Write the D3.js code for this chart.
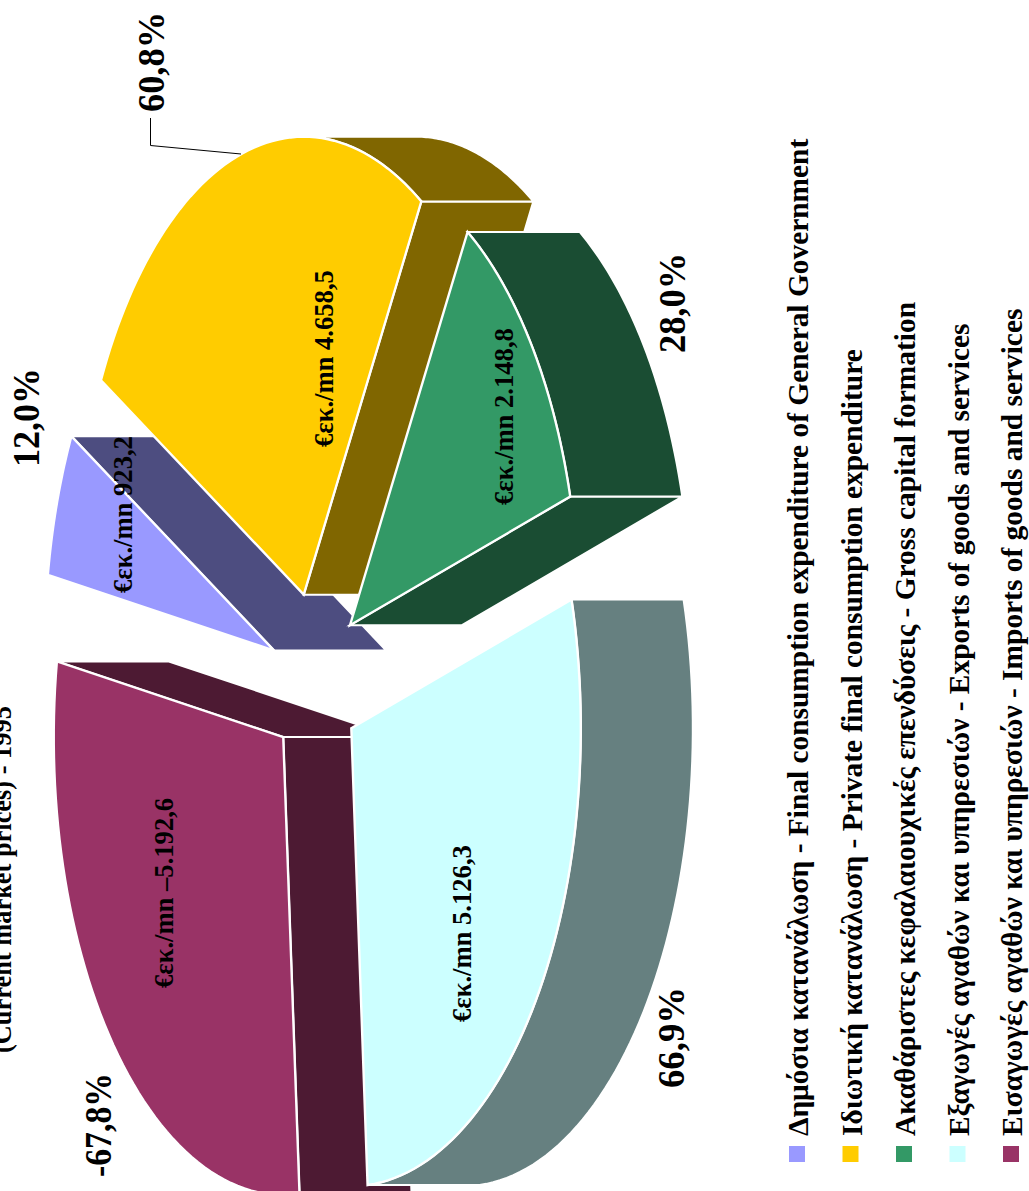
<!DOCTYPE html>
<html><head><meta charset="utf-8">
<script src="https://cdnjs.cloudflare.com/ajax/libs/d3/7.8.5/d3.min.js"></script>
<style>html,body{margin:0;padding:0;background:#fff;overflow:hidden}svg{display:block}
text{font-family:"Liberation Serif",serif;font-weight:bold;fill:#000}</style>
</head><body><svg id="c" width="1029" height="1191"></svg>
<script>
const categories = [
 "Δημόσια κατανάλωση - Final consumption expenditure of General Government",
 "Ιδιωτική κατανάλωση - Private final consumption expenditure",
 "Ακαθάριστες κεφαλαιουχικές επενδύσεις - Gross capital formation",
 "Εξαγωγές αγαθών και υπηρεσιών - Exports of goods and services",
 "Εισαγωγές αγαθών και υπηρεσιών - Imports of goods and services"];
const values = [923.2, 4658.5, 2148.8, 5126.3, -5192.6];
const valueLabels = ["€εκ./mn 923,2","€εκ./mn 4.658,5","€εκ./mn 2.148,8","€εκ./mn 5.126,3","€εκ./mn –5.192,6"];
const percentLabels = ["12,0%","60,8%","28,0%","66,9%","-67,8%"];
const topColors = ["#9999FF","#FFCC00","#339966","#CCFFFF","#993366"];
const sideColors = ["#4D4D80","#806600","#1A4D33","#668080","#4D1A33"];
const titleText = "(Current market prices) - 1995";

const svg = d3.select("#c");
const rad = d => d*Math.PI/180;
const explode = 0.19, depth = 112;
const xS = d3.scaleLinear().domain([-1,1]).range([315.5-229.5,315.5+229.5]);
const yS = d3.scaleLinear().domain([-1,1]).range([678.5-458,678.5+458]);
const pie = d3.pie().value(d=>Math.abs(d)).sort(null).startAngle(rad(-80.5)).endAngle(rad(279.5));
const line = d3.line().x(d=>xS(d[0])+(d[2]||0)).y(d=>yS(d[1]));
const arcs = pie(values).map((a,i)=>{
  const mid=(a.startAngle+a.endAngle)/2;
  return {i,a0:a.startAngle,a1:a.endAngle,ox:explode*Math.sin(mid),oy:-explode*Math.cos(mid)};
});
const pt=(s,t,sh)=>[s.ox+Math.sin(t),s.oy-Math.cos(t),sh||0];
const apex=(s,sh)=>[s.ox,s.oy,sh||0];
const sample=(a,b)=>d3.range(0,61).map(k=>a+(b-a)*k/60);

arcs.slice().sort((p,q)=>xS(p.ox)-xS(q.ox)).forEach(s=>{
  const g=svg.append("g");
  const walls=[];
  if(Math.cos(s.a0)<0) walls.push([apex(s),pt(s,s.a0),pt(s,s.a0,depth),apex(s,depth)]);
  if(Math.cos(s.a1)>0) walls.push([apex(s),pt(s,s.a1),pt(s,s.a1,depth),apex(s,depth)]);
  const lo=Math.max(s.a0,0),hi=Math.min(s.a1,Math.PI);
  if(lo<hi){const ts=sample(lo,hi);
    walls.push(ts.map(t=>pt(s,t)).concat(ts.slice().reverse().map(t=>pt(s,t,depth))));}
  walls.forEach(w=>g.append("path").attr("d",line(w)+"Z").attr("fill",sideColors[s.i])
    .attr("stroke","#fff").attr("stroke-width",2).attr("stroke-linejoin","miter"));
  const face=[apex(s)].concat(sample(s.a0,s.a1).map(t=>pt(s,t)));
  g.append("path").attr("d",line(face)+"Z").attr("fill",topColors[s.i])
    .attr("stroke","#fff").attr("stroke-width",2.4).attr("stroke-linejoin","miter");
});

const vtext=(x,y,txt,size)=>svg.append("text").attr("transform",`translate(${x},${y}) rotate(-90)`).attr("font-size",size).text(txt);
// value labels
const valuePos=[[132,593],[333,447],[513,505],[471,1022],[173,988]];
valueLabels.forEach((l,i)=>vtext(valuePos[i][0],valuePos[i][1],l,26.6));
// percent labels
const pctPos=[[39,467],[164,112],[685,353],[684,1088],[111,1177]];
const pctLen=[99,100,100,101,104];
percentLabels.forEach((l,i)=>vtext(pctPos[i][0],pctPos[i][1],l,38).attr("textLength",pctLen[i]).attr("lengthAdjust","spacingAndGlyphs"));
// leader
svg.append("path").attr("d",d3.line()([[241,154],[150.5,145.5],[150.5,118]])).attr("fill","none").attr("stroke","#000").attr("stroke-width",1);
// title
vtext(11,1053,titleText,26.4);
// legend
const legendX=d3.scalePoint().domain(d3.range(5)).range([808,1022]);
categories.forEach((c,i)=>{
  vtext(legendX(i),1136,c,29.4);
  svg.append("rect").attr("x",legendX(i)-19).attr("y",1146).attr("width",16).attr("height",16).attr("fill",topColors[i]);
});
</script></body></html>
